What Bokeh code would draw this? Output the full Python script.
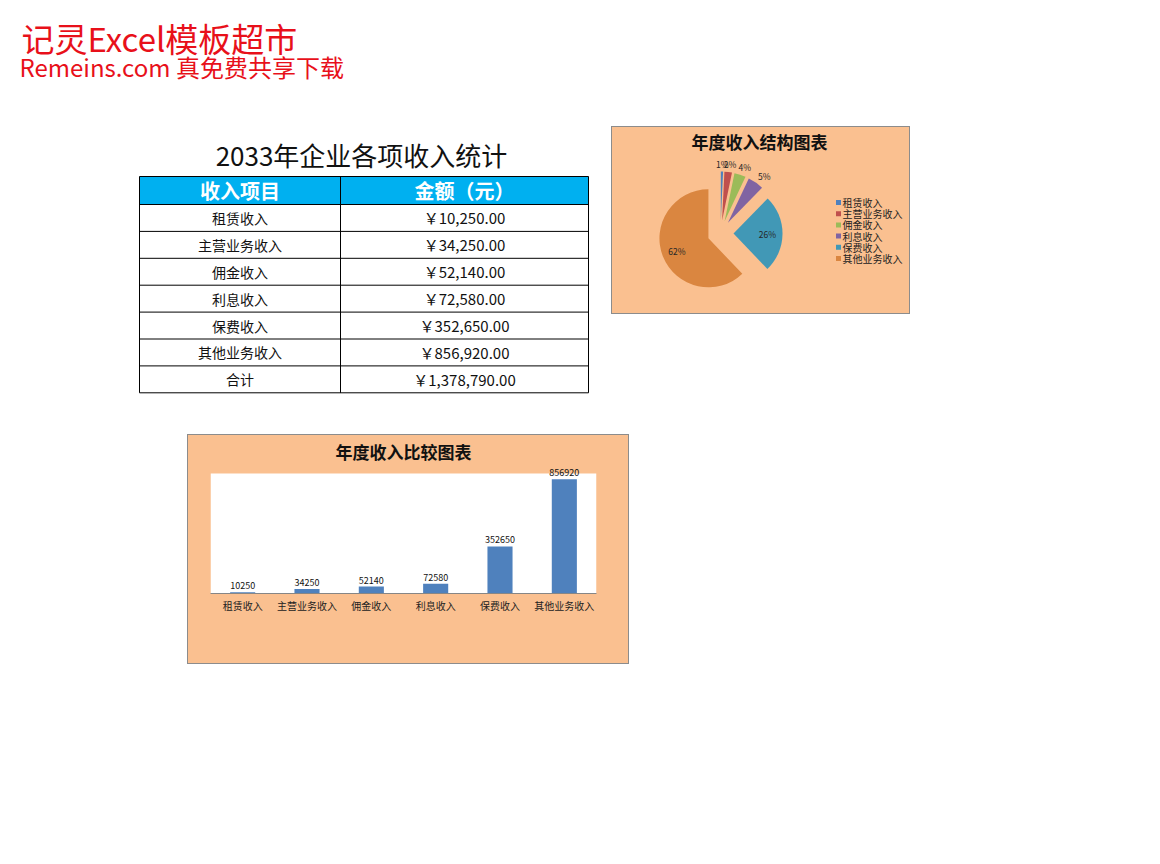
import math
from bokeh.plotting import figure
from bokeh.layouts import column, row
from bokeh.models import (Range1d, FactorRange, Spacer, ColumnDataSource, LabelSet, BoxAnnotation)
from bokeh.core.properties import value
from bokeh.embed import file_html
from bokeh.resources import INLINE

FONT = "Noto Sans CJK SC"
PEACH = "#FAC090"
BOX_LINE = "#8C8C8C"

# ---------------- data ----------------
site_title = "记灵Excel模板超市"
site_subtitle = "Remeins.com 真免费共享下载"
table_title = "2033年企业各项收入统计"
table_headers = ["收入项目", "金额（元）"]
categories = ["租赁收入", "主营业务收入", "佣金收入", "利息收入", "保费收入", "其他业务收入"]
amounts = [10250, 34250, 52140, 72580, 352650, 856920]
amount_texts = ["￥10,250.00", "￥34,250.00", "￥52,140.00", "￥72,580.00", "￥352,650.00", "￥856,920.00"]
total_name = "合计"
total_text = "￥1,378,790.00"
pie_title = "年度收入结构图表"
bar_title = "年度收入比较图表"
pct_labels = ["1%", "2%", "4%", "5%", "26%", "62%"]
slice_colors = ["#4F81BD", "#C0504D", "#9BBB59", "#8064A2", "#4198B6", "#DA8640"]
bar_color = "#4F81BD"
bar_axis_max = 900000

BOX_STYLE = {"border": "1px solid " + BOX_LINE, "background-color": PEACH}

# ---------------- canvas: site title + table ----------------
pa = figure(width=611, height=434, x_range=Range1d(0, 611), y_range=Range1d(434, 0),
            x_axis_type=None, y_axis_type=None, toolbar_location=None, output_backend="svg",
            min_border=0, outline_line_color=None, background_fill_color="white",
            border_fill_color="white")
pa.grid.visible = False

pa.text(x=[21], y=[37], text=[site_title], text_font=value(FONT), text_font_size="33px",
        text_color="#E8101A", text_baseline="middle")
pa.text(x=[19], y=[66], text=[site_subtitle], text_font=value(FONT), text_font_size="24px",
        text_color="#E8101A", text_baseline="middle")
pa.text(x=[361], y=[154], text=[table_title], text_font=value(FONT), text_font_size="26px",
        text_color="#111111", text_baseline="middle", text_align="center")

T_LEFT, T_MID, T_RIGHT = 139, 340, 588
T_TOP, HEAD_H, ROW_H = 176, 28, 26.9
names = categories + [total_name]
values_txt = amount_texts + [total_text]
n_rows = len(names)
head_bottom = T_TOP + HEAD_H
t_bottom = head_bottom + ROW_H * n_rows

pa.quad(left=[T_LEFT], right=[T_RIGHT], top=[T_TOP], bottom=[head_bottom],
        fill_color="#00B0F0", line_color=None)
hy = [T_TOP, head_bottom] + [head_bottom + ROW_H * (i + 1) for i in range(n_rows)]
pa.segment(x0=[T_LEFT] * len(hy), y0=hy, x1=[T_RIGHT] * len(hy), y1=hy,
           line_color="black", line_width=1)
vx = [T_LEFT, T_MID, T_RIGHT]
pa.segment(x0=vx, y0=[T_TOP] * 3, x1=vx, y1=[t_bottom] * 3, line_color="black", line_width=1)

c1 = (T_LEFT + T_MID) / 2
c2 = (T_MID + T_RIGHT) / 2
pa.text(x=[c1, c2], y=[T_TOP + HEAD_H / 2] * 2, text=table_headers, text_font=value(FONT),
        text_font_size="20px", text_font_style="bold", text_color="white",
        text_align="center", text_baseline="middle")
row_y = [head_bottom + ROW_H * (i + 0.5) for i in range(n_rows)]
pa.text(x=[c1] * n_rows, y=row_y, text=names, text_font=value(FONT), text_font_size="14px",
        text_color="#111111", text_align="center", text_baseline="middle")
pa.text(x=[c2] * n_rows, y=row_y, text=values_txt, text_font=value(FONT), text_font_size="15px",
        text_color="#111111", text_align="center", text_baseline="middle")

# ---------------- pie chart ----------------
pp = figure(width=299, height=188, x_range=Range1d(0, 299), y_range=Range1d(-2, 186),
            x_axis_type=None, y_axis_type=None, toolbar_location=None, output_backend="svg",
            min_border=0, outline_line_color=None, background_fill_color=PEACH,
            border_fill_color=PEACH, styles=BOX_STYLE)
pp.grid.visible = False

PIE_CX, PIE_CY, PIE_R, EXPLODE = 108, 80, 49, 13
LABEL_OUT, LABEL_IN, LABEL_HALF_W = 70, 47, 7
total = sum(amounts)
cum = 0
starts, ends, xs, ys, lx, ly = [], [], [], [], [], []
for a in amounts:
    s = math.pi / 2 - 2 * math.pi * cum / total
    cum += a
    e = math.pi / 2 - 2 * math.pi * cum / total
    m = (s + e) / 2
    starts.append(s)
    ends.append(e)
    xs.append(PIE_CX + EXPLODE * math.cos(m))
    ys.append(PIE_CY + EXPLODE * math.sin(m))
    if a / total < 0.1:
        lx.append(PIE_CX + LABEL_OUT * math.cos(m) + LABEL_HALF_W * math.cos(m))
        ly.append(PIE_CY + LABEL_OUT * math.sin(m))
    else:
        lx.append(PIE_CX + LABEL_IN * math.cos(m))
        ly.append(PIE_CY + LABEL_IN * math.sin(m))

pie_src = ColumnDataSource(dict(x=xs, y=ys, start=starts, end=ends, color=slice_colors,
                                lx=lx, ly=ly, pct=pct_labels, cat=categories))
pp.wedge(x="x", y="y", radius=PIE_R, start_angle="start", end_angle="end",
         direction="clock", fill_color="color", line_color=None, source=pie_src)
pp.text(x="lx", y="ly", text="pct", source=pie_src, text_font=value(FONT),
        text_font_size="8.5px", text_color="#262626", text_align="center",
        text_baseline="middle")
pp.text(x=[147], y=[172], text=[pie_title], text_font=value(FONT), text_font_size="17px",
        text_font_style="bold", text_color="#111111", text_align="center",
        text_baseline="middle")

# legend (Excel-style compact rows)
LEG_X, LEG_TOP, LEG_STEP = 226, 111, 11.2
leg_y = [LEG_TOP - i * LEG_STEP for i in range(len(categories))]
leg_src = ColumnDataSource(dict(x=[LEG_X] * len(categories), tx=[LEG_X + 4] * len(categories),
                                y=leg_y, cat=categories, color=slice_colors))
pp.scatter(x="x", y="y", marker="square", size=5, fill_color="color", line_color=None,
           source=leg_src)
pp.text(x="tx", y="y", text="cat", source=leg_src, text_font=value(FONT),
        text_font_size="10px", text_color="#222222", text_baseline="middle")

# ---------------- bar chart ----------------
pb = figure(width=442, height=230, x_range=FactorRange(factors=categories, range_padding=0),
            y_range=Range1d(0, bar_axis_max * 130 / 120), y_axis_location=None,
            toolbar_location=None, output_backend="svg", min_border_left=22,
            min_border_right=34, min_border_top=28, min_border_bottom=72,
            background_fill_color=PEACH, border_fill_color=PEACH,
            outline_line_color=None, title=bar_title, styles=BOX_STYLE)
pb.grid.visible = False
pb.title.align = "center"
pb.title.text_font = FONT
pb.title.text_font_size = "17px"
pb.title.text_font_style = "bold"
pb.title.text_color = "#111111"
pb.title.standoff = 0

# white plot area up to the axis maximum
pb.add_layout(BoxAnnotation(top=bar_axis_max, fill_color="white", fill_alpha=1,
                            line_color=None, level="underlay"))

bar_src = ColumnDataSource(dict(cat=categories, amt=amounts, lbl=[str(v) for v in amounts]))
pb.vbar(x="cat", top="amt", width=0.39, fill_color=bar_color, line_color=None, source=bar_src)
pb.add_layout(LabelSet(x="cat", y="amt", text="lbl", source=bar_src, y_offset=3,
                       text_align="center", text_baseline="bottom", text_font=value(FONT),
                       text_font_size="9px", text_color="#111111"))
pb.xaxis.axis_line_color = "#868686"
pb.xaxis.major_tick_line_color = None
pb.xaxis.minor_tick_line_color = None
pb.xaxis.major_tick_out = 0
pb.xaxis.major_tick_in = 0
pb.xaxis.major_label_text_font = FONT
pb.xaxis.major_label_text_font_size = "10px"
pb.xaxis.major_label_text_color = "#222222"
pb.xaxis.major_label_standoff = 4

layout = column(
    row(pa, column(Spacer(width=299, height=126), pp)),
    row(Spacer(width=187, height=230), pb),
)

open("out.html", "w").write(file_html(layout, INLINE))
